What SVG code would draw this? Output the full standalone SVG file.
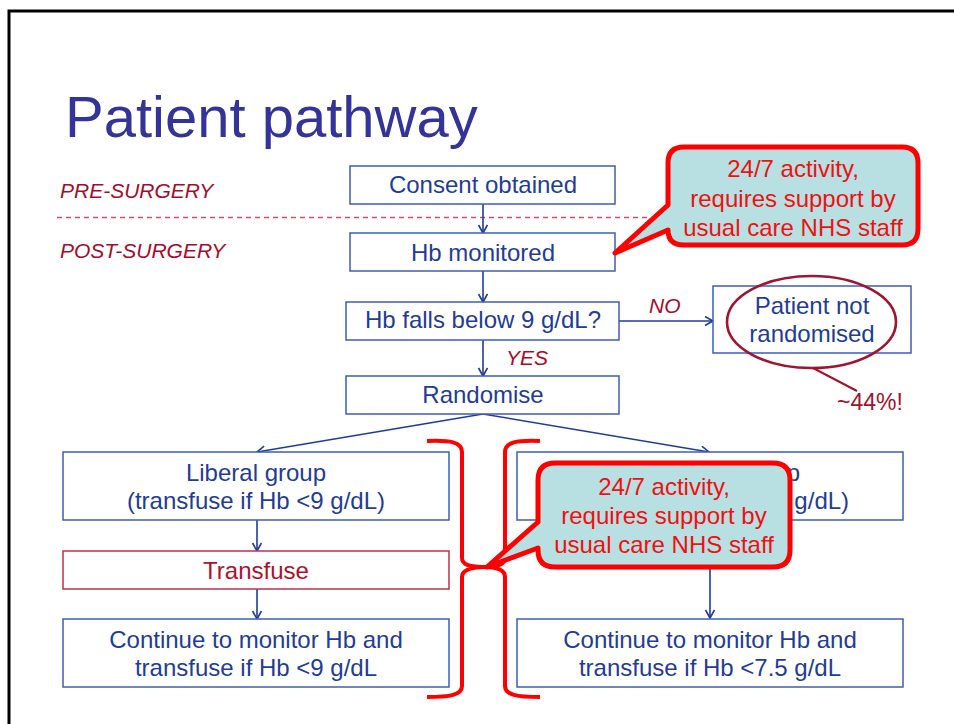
<svg xmlns="http://www.w3.org/2000/svg" width="954" height="724" viewBox="0 0 954 724">
<defs>
<style>
.box{fill:#fff;stroke:#3D5DB5;stroke-width:1.5}
.bt{font-family:"Liberation Sans",Arial,sans-serif;font-size:24px;fill:#1F3C96;text-anchor:middle}
.lbl{font-family:"Liberation Sans",Arial,sans-serif;font-size:21px;font-style:italic;fill:#A50B2B}
.conn{fill:none;stroke:#1F3C9A;stroke-width:1.6}
.call{fill:#B8DFE2;stroke:#FF0000;stroke-width:5;stroke-linejoin:round}
.ct{font-family:"Liberation Sans",Arial,sans-serif;font-size:24px;fill:#F01010;text-anchor:middle}
.brace{fill:none;stroke:#FF0000;stroke-width:4}
</style>
<marker id="ah" markerWidth="12" markerHeight="12" refX="9" refY="5" orient="auto" markerUnits="userSpaceOnUse">
<path d="M1,0.5 L9,5 L1,9.5" fill="none" stroke="#1F3C9A" stroke-width="1.6"/>
</marker>
</defs>
<rect width="954" height="724" fill="#fff"/>
<rect x="9" y="11" width="1000" height="800" fill="none" stroke="#000" stroke-width="3"/>
<text x="65" y="137" font-family="'Liberation Sans',Arial,sans-serif" font-size="58" fill="#333399">Patient pathway</text>
<text class="lbl" x="60" y="198">PRE-SURGERY</text>
<text class="lbl" x="60" y="258">POST-SURGERY</text>
<line x1="57" y1="217.5" x2="670" y2="217.5" stroke="#C8506A" stroke-width="1.4" stroke-dasharray="5,4"/>

<g id="connectors">
<line class="conn" x1="483" y1="204" x2="483" y2="233" marker-end="url(#ah)"/>
<line class="conn" x1="483" y1="271" x2="483" y2="302" marker-end="url(#ah)"/>
<line class="conn" x1="483" y1="340" x2="483" y2="376" marker-end="url(#ah)"/>
<line class="conn" x1="619" y1="321" x2="713" y2="321" marker-end="url(#ah)"/>
<line class="conn" x1="483" y1="414" x2="257" y2="452" marker-end="url(#ah)"/>
<line class="conn" x1="483" y1="414" x2="709" y2="452" marker-end="url(#ah)"/>
<line class="conn" x1="257" y1="520" x2="257" y2="551" marker-end="url(#ah)"/>
<line class="conn" x1="257" y1="589" x2="257" y2="619" marker-end="url(#ah)"/>
<line class="conn" x1="710" y1="520" x2="710" y2="618" marker-end="url(#ah)"/>
<text class="lbl" x="649" y="313">NO</text>
<text class="lbl" x="506" y="365">YES</text>
</g>

<g id="consent"><rect class="box" x="350" y="166" width="265" height="38"/><text class="bt" x="483" y="193">Consent obtained</text></g>
<g id="hb-monitored"><rect class="box" x="350" y="233" width="265" height="38"/><text class="bt" x="483" y="261">Hb monitored</text></g>
<g id="hb-falls"><rect class="box" x="346" y="302" width="273" height="38"/><text class="bt" x="483" y="328">Hb falls below 9 g/dL?</text></g>
<g id="randomise"><rect class="box" x="346" y="376" width="273" height="38"/><text class="bt" x="483" y="403">Randomise</text></g>
<g id="not-randomised">
<rect class="box" x="713" y="286" width="198" height="67"/>
<text class="bt" x="812" y="314">Patient not</text>
<text class="bt" x="812" y="342">randomised</text>
<ellipse cx="811.5" cy="322" rx="84.5" ry="46" fill="none" stroke="#A0142E" stroke-width="2.6"/>
<line x1="813" y1="368" x2="857" y2="391" stroke="#A0142E" stroke-width="2"/>
<text x="837" y="410" font-family="'Liberation Sans',Arial,sans-serif" font-size="23" fill="#A0142E">~44%!</text>
</g>
<g id="liberal"><rect class="box" x="63" y="452" width="386" height="68"/><text class="bt" x="256" y="481">Liberal group</text><text class="bt" x="256" y="509">(transfuse if Hb &lt;9 g/dL)</text></g>
<g id="transfuse"><rect x="63" y="551" width="386" height="38" fill="#fff" stroke="#C0304A" stroke-width="1.5"/><text class="bt" x="256" y="579" style="fill:#B0102E">Transfuse</text></g>
<g id="continue-left"><rect class="box" x="63" y="619" width="386" height="68"/><text class="bt" x="256" y="648">Continue to monitor Hb and</text><text class="bt" x="256" y="676">transfuse if Hb &lt;9 g/dL</text></g>
<g id="restrictive"><rect class="box" x="517" y="452" width="386" height="68"/><text class="bt" x="710" y="481">Restrictive group</text><text class="bt" x="710" y="509">(transfuse if Hb &lt;7.5 g/dL)</text></g>
<g id="continue-right"><rect class="box" x="517" y="619" width="386" height="68"/><text class="bt" x="710" y="648">Continue to monitor Hb and</text><text class="bt" x="710" y="676">transfuse if Hb &lt;7.5 g/dL</text></g>

<g id="braces">
<path class="brace" d="M427,441 C450,440 462,442 462,452 V558 C462,565 470,567 486,567 C470,567 462,570 462,577 V686 C462,695 450,697 427,697"/>
<path class="brace" d="M540,441 C517,440 505,442 505,452 V558 C505,565 497,567 484,567 C497,567 505,570 505,577 V686 C505,695 517,697 540,697"/>
</g>

<g id="callout-top">
<path class="call" d="M684,147 H902 Q918,147 918,163 V229 Q918,245 902,245 H684 Q668,245 668,230 L615,253 L668,205 V163 Q668,147 684,147 Z"/>
<text class="ct" x="793" y="177">24/7 activity,</text>
<text class="ct" x="793" y="207">requires support by</text>
<text class="ct" x="793" y="236">usual care NHS staff</text>
</g>
<g id="callout-bottom">
<path class="call" d="M555,463 H773 Q790,463 790,480 V550 Q790,567 773,567 H555 Q538,567 538,550 V548 L487,567 L538,522 V480 Q538,463 555,463 Z"/>
<text class="ct" x="664" y="495">24/7 activity,</text>
<text class="ct" x="664" y="524">requires support by</text>
<text class="ct" x="664" y="553">usual care NHS staff</text>
</g>
</svg>
